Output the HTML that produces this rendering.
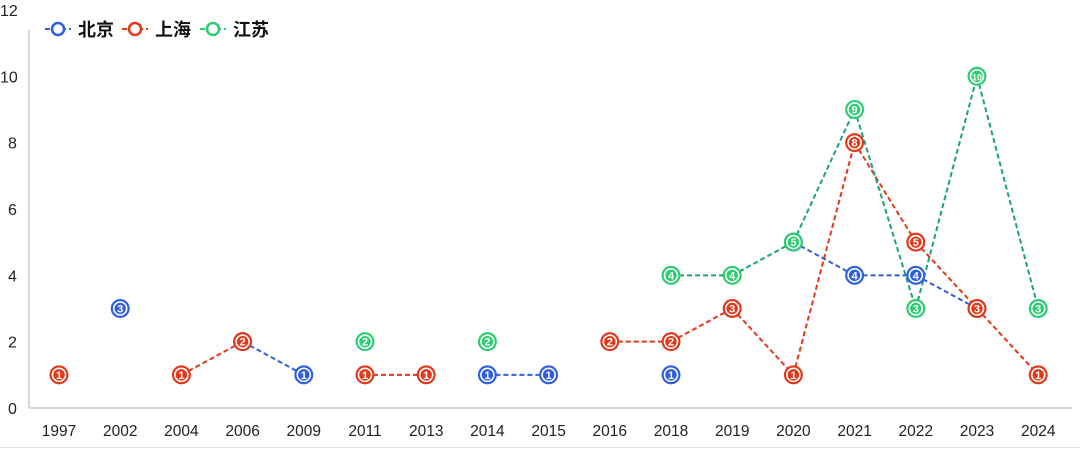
<!DOCTYPE html>
<html><head><meta charset="utf-8"><style>
body{margin:0;background:#fff;width:1080px;height:449px;overflow:hidden}
svg{display:block}
text{font-family:"Liberation Sans","Noto Sans CJK SC",sans-serif}
</style></head><body>
<svg id="s" width="1080" height="449" xmlns="http://www.w3.org/2000/svg"></svg>
<script>
const years=["1997","2002","2004","2006","2009","2011","2013","2014","2015","2016","2018","2019","2020","2021","2022","2023","2024"];
const N=null;
const series=[
 {c:"#2f5ee0",l:"#2f5ee0",d:[N,3,N,2,1,N,N,1,1,N,1,N,5,4,4,3,N]},
 {c:"#e4381a",l:"#e4381a",d:[1,N,1,2,N,1,1,N,N,2,2,3,1,8,5,3,1]},
 {c:"#2ecc71",l:"#1aa37a",d:[N,N,N,N,N,2,N,2,N,N,4,4,5,9,3,10,3]}
];
const X=i=>59+i*61.2, Y=v=>408-v*33.17;
let h='';
h+='<line x1="29" y1="30" x2="29" y2="408" stroke="#ccc" stroke-width="1.5"/>';
h+='<line x1="29" y1="408" x2="1072" y2="408" stroke="#ccc" stroke-width="1.5"/>';
h+='<line x1="0" y1="447.5" x2="1080" y2="447.5" stroke="#ddd" stroke-width="1"/>';
for(let v=0;v<=12;v+=2)h+=`<text x="${v>=10?0:8}" y="${Y(v)+6}" font-size="16" fill="#222">${v}</text>`;
years.forEach((y,i)=>h+=`<text x="${X(i)}" y="436" font-size="15.5" fill="#222" text-anchor="middle">${y}</text>`);
series.forEach(s=>{for(let i=0;i<s.d.length-1;i++)if(s.d[i]!=N&&s.d[i+1]!=N)h+=`<line x1="${X(i)}" y1="${Y(s.d[i])}" x2="${X(i+1)}" y2="${Y(s.d[i+1])}" stroke="${s.l}" stroke-width="2" stroke-dasharray="5,3"/>`;});
series.forEach(s=>s.d.forEach((v,i)=>{if(v==N)return;const x=X(i),y=Y(v);
h+=`<circle cx="${x}" cy="${y}" r="9.5" fill="${s.c}"/><circle cx="${x}" cy="${y}" r="6.5" fill="none" stroke="#fff" stroke-width="1.6"/><text x="${x}" y="${y+4}" font-size="${v>=10?9:11}" font-weight="bold" fill="#fff" text-anchor="middle">${v}</text>`;}));
const lg=[["北京",45],["上海",122],["江苏",200]];
lg.forEach((g,k)=>{const c=series[k].c,x=g[1];
h+=`<line x1="${x}" y1="29" x2="${x+26}" y2="29" stroke="${c}" stroke-width="2" stroke-dasharray="5,3"/><circle cx="${x+13}" cy="29" r="6" fill="#fff" stroke="${c}" stroke-width="2.5"/><text x="${x+33}" y="36" font-size="18" font-weight="bold" fill="#111">${g[0]}</text>`;});
document.getElementById('s').innerHTML=h;
</script>
</body></html>
